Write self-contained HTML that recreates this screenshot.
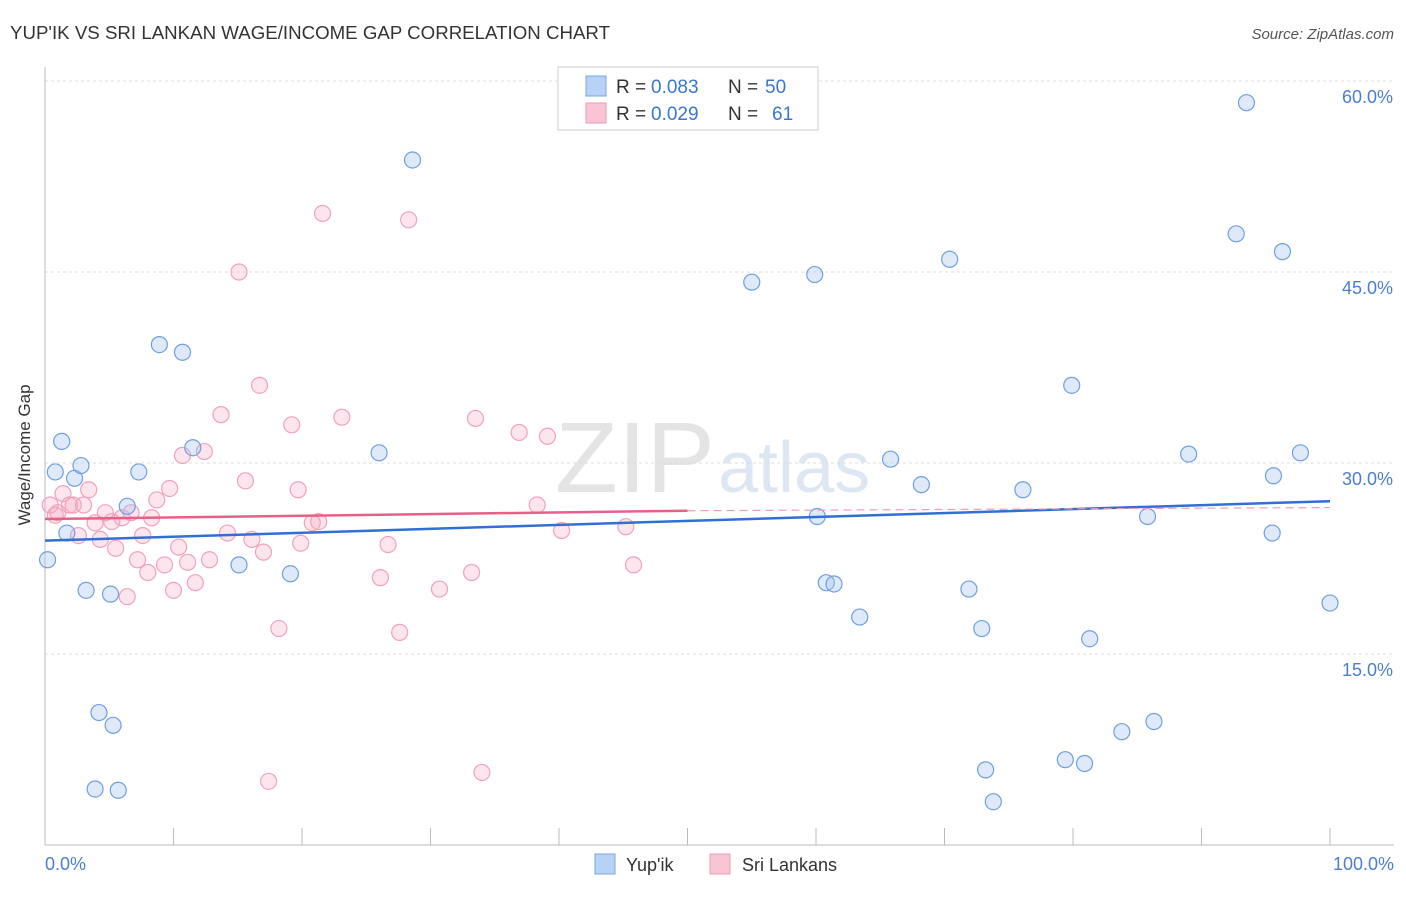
<!DOCTYPE html>
<html><head><meta charset="utf-8"><style>
body{margin:0;background:#fff;font-family:"Liberation Sans",sans-serif}
svg text{font-family:"Liberation Sans",sans-serif}
</style></head><body>
<svg id="chart" width="1406" height="892">
<text x="10" y="39" font-size="18" fill="#333" textLength="600" lengthAdjust="spacingAndGlyphs">YUP'IK VS SRI LANKAN WAGE/INCOME GAP CORRELATION CHART</text>
<text x="1394" y="39" font-size="15" fill="#555" font-style="italic" text-anchor="end">Source: ZipAtlas.com</text>
<text x="555" y="492" font-size="100" fill="#e4e4e4" font-family="Liberation Serif" textLength="160" lengthAdjust="spacingAndGlyphs">ZIP</text>
<text x="718" y="492" font-size="72" fill="#dde6f3">atlas</text>
<g id="grid"></g><g id="axes"></g><g id="marks"></g>
<text x="30" y="455" font-size="17" fill="#333" transform="rotate(-90 30 455)" text-anchor="middle">Wage/Income Gap</text>
<text x="45" y="870" font-size="18" fill="#4a7fd0">0.0%</text>
<text x="1394" y="870" font-size="18" fill="#4a7fd0" text-anchor="end">100.0%</text>
<g>
<rect x="558" y="67" width="260" height="63" fill="#fff" stroke="#ccc"/>
<rect x="586" y="76" width="20" height="20" fill="#b8d2f5" stroke="#7aa6e6"/>
<rect x="586" y="103" width="20" height="20" fill="#f9c5d5" stroke="#ee9ab5"/>
<text x="616" y="93" font-size="19" fill="#333">R =</text>
<text x="651" y="93" font-size="19" fill="#3a76d0">0.083</text>
<text x="728" y="93" font-size="19" fill="#333">N =</text>
<text x="765" y="93" font-size="19" fill="#3a76d0">50</text>
<text x="616" y="120" font-size="19" fill="#333">R =</text>
<text x="651" y="120" font-size="19" fill="#3a76d0">0.029</text>
<text x="728" y="120" font-size="19" fill="#333">N =</text>
<text x="772" y="120" font-size="19" fill="#3a76d0">61</text>
</g>
<g>
<rect x="595" y="854" width="20" height="20" fill="#b8d2f5" stroke="#7aa6e6"/>
<text x="626" y="871" font-size="18" fill="#333">Yup'ik</text>
<rect x="710" y="854" width="20" height="20" fill="#f9c5d5" stroke="#ee9ab5"/>
<text x="742" y="871" font-size="18" fill="#333">Sri Lankans</text>
</g>
</svg>
<script>
const yTicks=[15,30,45,60];
const blueX=[0.2,0.8,1.3,1.7,2.3,2.8,3.2,4.2,3.9,5.1,5.3,5.7,6.4,7.3,8.9,10.7,11.5,15.1,19.1,26.0,28.6,55.0,59.9,60.1,60.8,61.4,63.4,65.8,68.2,70.4,71.9,72.9,73.2,73.8,76.1,79.4,79.9,80.9,81.3,83.8,85.8,86.3,89.0,92.7,93.5,95.5,95.6,96.3,97.7,100.0];
const blueY=[22.4,29.3,31.7,24.5,28.8,29.8,20.0,10.4,4.4,19.7,9.4,4.3,26.6,29.3,39.3,38.7,31.2,22.0,21.3,30.8,53.8,44.2,44.8,25.8,20.6,20.5,17.9,30.3,28.3,46.0,20.1,17.0,5.9,3.4,27.9,6.7,36.1,6.4,16.2,8.9,25.8,9.7,30.7,48.0,58.3,24.5,29.0,46.6,30.8,19.0];
const pinkX=[0.4,0.8,1.0,1.4,1.9,2.2,2.6,3.0,3.4,3.9,4.3,4.7,5.2,5.5,6.0,6.4,6.7,7.2,7.6,8.0,8.3,8.7,9.3,9.7,10.0,10.4,10.7,11.1,11.7,12.4,12.8,13.7,14.2,15.1,15.6,16.1,16.7,17.0,17.4,18.2,19.2,19.7,19.9,20.8,21.3,21.6,23.1,26.1,26.7,27.6,28.3,30.7,33.2,33.5,34.0,36.9,38.3,39.1,40.2,45.2,45.8];
const pinkY=[26.7,25.9,26.1,27.6,26.7,26.7,24.3,26.7,27.9,25.3,24.0,26.1,25.4,23.3,25.7,19.5,26.1,22.4,24.3,21.4,25.7,27.1,22.0,28.0,20.0,23.4,30.6,22.2,20.6,30.9,22.4,33.8,24.5,45.0,28.6,24.0,36.1,23.0,5.0,17.0,33.0,27.9,23.7,25.3,25.4,49.6,33.6,21.0,23.6,16.7,49.1,20.1,21.4,33.5,5.7,32.4,26.7,32.1,24.7,25.0,22.0];
const blueTrend=[23.9,27.0];
const pinkTrend=[25.6,25.4,26.5];
const ns='http://www.w3.org/2000/svg';
const X=v=>45+v*12.85, Y=v=>845-v*12.733;
function mk(t,a,p){const e=document.createElementNS(ns,t);for(const k in a)e.setAttribute(k,a[k]);p.appendChild(e);return e;}
const grid=document.getElementById('grid'),axes=document.getElementById('axes'),marks=document.getElementById('marks');
yTicks.forEach(t=>{
 const l=mk('line',{x1:45,x2:1394,y1:Y(t),y2:Y(t),stroke:'#ddd','stroke-dasharray':'3,3'},grid);
 
 
 const tx=mk('text',{x:1393,y:Y(t)+22,'font-size':18,fill:'#4a7fd0','text-anchor':'end'},grid);
 tx.textContent=t.toFixed(1)+'%';
 
 
});
mk('line',{x1:45,x2:45,y1:67,y2:845,stroke:'#bbb'},axes);
const xa=mk('line',{x1:45,x2:1394,y1:845,y2:845,stroke:'#bbb'},axes);


for(let i=0;i<=10;i++){const tk=mk('line',{x1:X(i*10),x2:X(i*10),y1:828,y2:845,stroke:'#bbb'},axes);
 
 }
pinkX.forEach((x,i)=>{const c=mk('circle',{cx:X(x),cy:Y(pinkY[i]),r:8,fill:'rgba(246,170,195,0.3)',stroke:'#f0a2bb','stroke-width':1.2},marks);
 
 });
blueX.forEach((x,i)=>{const c=mk('circle',{cx:X(x),cy:Y(blueY[i]),r:8,fill:'rgba(160,195,240,0.35)',stroke:'#6f9fdf','stroke-width':1.2},marks);
 
 });
const bt=mk('line',{x1:X(0),y1:Y(blueTrend[0]),x2:X(100),y2:Y(blueTrend[1]),stroke:'#2f6fd6','stroke-width':2.5},marks);


const pt=mk('line',{x1:X(0),y1:Y(pinkTrend[0]),x2:X(50),y2:Y(pinkTrend[1]+0.85),stroke:'#e8608a','stroke-width':2.5},marks);


const pd=mk('line',{x1:X(50),y1:Y(pinkTrend[1]+0.85),x2:X(100),y2:Y(pinkTrend[2]),stroke:'#e8a0b8','stroke-width':1.2,'stroke-dasharray':'8,5'},marks);


</script>
</body></html>
